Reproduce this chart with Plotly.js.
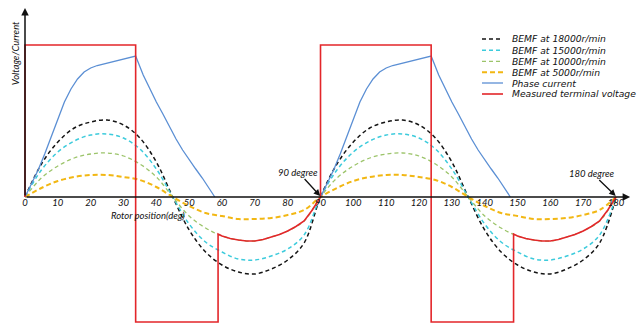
<!DOCTYPE html>
<html>
<head>
<meta charset="utf-8">
<script src="https://cdn.plot.ly/plotly-3.0.1.min.js"></script>
<style>html,body{margin:0;padding:0;background:#fff;}#chart{width:639px;height:324px;}</style>
</head>
<body>
<div id="chart"></div>
<script>
// ---- data ----
const seriesNames = ["BEMF at 18000r/min", "BEMF at 15000r/min", "BEMF at 10000r/min", "BEMF at 5000r/min", "Phase current", "Measured terminal voltage"];
const rotorDeg = [0,5,10,15,20,25,30,35,40,45,50,55,60,65,70,75,80,85,90,95,100,105,110,115,120,125,130,135,140,145,150,155,160,165,170,175,180];
const bemf18000 = [0,33,55,69,75,77,72,59,35,0,-33,-55,-68,-75,-77,-72,-63,-46,0,33,55,69,75,77,72,59,35,0,-33,-55,-68,-75,-77,-72,-63,-46,0];
const bemf15000 = [0,27,45,56,62,63,59,48,28,0,-27,-45,-55,-62,-63,-59,-52,-38,0,27,45,56,62,63,59,48,28,0,-27,-45,-55,-62,-63,-59,-52,-38,0];
const bemf10000 = [0,19,31,39,43,44,41,33,20,0,-19,-31,-39,-43,-44,-40,-34,-24,0,19,31,39,43,44,41,33,20,0,-19,-31,-39,-43,-44,-40,-34,-24,0];
const bemf5000  = [0,9,16,20,22,22,20,17,10,0,-9,-16,-19,-22,-22,-21,-18,-13,0,9,16,20,22,22,20,17,10,0,-9,-16,-19,-22,-22,-21,-18,-13,0];

const currentDeg = [0,2,4,6,8,10,12,14,16,18,20,22,24,26,28,30,32,33.7,36,38,40,42,44,46,48,50,52,54,56,57.8,null,
  90,92,94,96,98,100,102,104,106,108,110,112,114,116,118,120,122,123.7,126,128,130,132,134,136,138,140,142,144,146,147.8];
const phaseCurrent = [0,13,27,43,60,78,95,108,118,125,129,131.5,133,134.5,136,137.5,139.5,141,122,108,95,83,70,58,47,37,28,19,9,0,null,
  0,13,27,43,60,78,95,108,118,125,129,131.5,133,134.5,136,137.5,139.5,141,122,108,95,83,70,58,47,37,28,19,9,0];

const voltageDeg = [0,0,33.7,33.7,58.8,58.8,60,62.5,65,67.5,70,72.5,75,77.5,80,82.5,85,87.5,90,
  90,123.7,123.7,148.8,148.8,150,152.5,155,157.5,160,162.5,165,167.5,170,172.5,175,177.5,180];
const terminalVoltage = [0,152,152,-125,-125,-37,-39,-41.5,-43,-44,-44,-42.5,-40,-37.5,-34,-29.5,-24,-13,0,
  152,152,-125,-125,-37,-39,-41.5,-43,-44,-44,-42.5,-40,-37.5,-34,-29.5,-24,-13,0];

const tickVals = [0,10,20,30,40,50,60,70,80,90,100,110,120,130,140,150,160,170,180];
const tickText = tickVals.map(String);

// ---- styles ----
const FONT = "Lato, 'Open Sans', sans-serif";
const LEGFONT = "'DejaVu Sans', sans-serif";
const colors = ["#141414", "#3ccbdc", "#9cc46a", "#f2b713", "#5b8fd4", "#e3262a"];
const dashes = ["4px,3px", "4px,3px", "4px,3px", "5px,3px", "solid", "solid"];
const widths = [1.5, 1.5, 1.3, 2, 1.3, 1.6];

const traces = [
  {x: rotorDeg, y: bemf18000, shape: "spline"},
  {x: rotorDeg, y: bemf15000, shape: "spline"},
  {x: rotorDeg, y: bemf10000, shape: "spline"},
  {x: rotorDeg, y: bemf5000,  shape: "spline"},
  {x: currentDeg, y: phaseCurrent, shape: "linear"},
  {x: voltageDeg, y: terminalVoltage, shape: "linear"}
].map((t, i) => ({
  type: "scatter", mode: "lines", name: seriesNames[i], x: t.x, y: t.y,
  connectgaps: false, hoverinfo: "skip",
  line: {shape: t.shape, color: colors[i], width: widths[i], dash: dashes[i]}
}));

// legend drawn by hand (compact rows, as in the reference)
const W = 639, H = 324;
const legendRows = [39, 50.2, 61.4, 72.2, 83, 94];
const shapes = [];
const annotations = [];
seriesNames.forEach((n, i) => {
  shapes.push({type: "line", xref: "paper", yref: "paper",
    x0: 482 / W, x1: 503 / W, y0: 1 - legendRows[i] / H, y1: 1 - legendRows[i] / H,
    line: {color: colors[i], width: widths[i], dash: dashes[i]}});
  annotations.push({xref: "paper", yref: "paper", x: 511 / W, y: 1 - legendRows[i] / H,
    xanchor: "left", yanchor: "middle", text: n, showarrow: false, borderpad: 0,
    font: {family: LEGFONT, size: 9.2, color: "#111", style: "italic"}});
});

// axis arrows
annotations.push({x: 184.3, y: 0, ax: 0, ay: 0, axref: "x", ayref: "y", xref: "x", yref: "y",
  text: "", showarrow: true, arrowhead: 2, arrowsize: 1, arrowwidth: 1.5, arrowcolor: "#111", standoff: 0, startstandoff: 0});
annotations.push({x: 0, y: 189, ax: 0, ay: 0, axref: "x", ayref: "y", xref: "x", yref: "y",
  text: "", showarrow: true, arrowhead: 2, arrowsize: 1, arrowwidth: 1.5, arrowcolor: "#111", standoff: 0, startstandoff: 0});

// axis titles
annotations.push({x: 37.6, y: -18, xref: "x", yref: "y", text: "Rotor position(deg)", showarrow: false, borderpad: 0,
  font: {family: FONT, size: 9.5, color: "#111", style: "italic"}});
annotations.push({x: -3.0, y: 144, xref: "x", yref: "y", text: "Voltage/Current", showarrow: false, textangle: -90, borderpad: 0,
  font: {family: FONT, size: 9.5, color: "#111", style: "italic"}});

// degree pointers
annotations.push({x: 89.9, y: 1, ax: 83.2, ay: 25, axref: "x", ayref: "y", xref: "x", yref: "y",
  text: "90 degree", showarrow: true, arrowhead: 2, arrowsize: 1, arrowwidth: 1.3, arrowcolor: "#111",
  font: {family: FONT, size: 9.5, color: "#111", style: "italic"}});
annotations.push({x: 179.9, y: 1, ax: 172.7, ay: 24, axref: "x", ayref: "y", xref: "x", yref: "y",
  text: "180 degree", showarrow: true, arrowhead: 2, arrowsize: 1, arrowwidth: 1.3, arrowcolor: "#111",
  font: {family: FONT, size: 9.5, color: "#111", style: "italic"}});

const layout = {
  width: W, height: H,
  margin: {l: 0, r: 0, t: 0, b: 0, pad: 0},
  paper_bgcolor: "#fff", plot_bgcolor: "#fff",
  showlegend: false,
  xaxis: {range: [-7.615, 187.0], anchor: "free", position: 127 / 324,
    showline: false, zeroline: false, showgrid: false, ticks: "",
    ticklabelstandoff: -2,
    tickvals: tickVals, ticktext: tickText,
    tickfont: {family: FONT, size: 9.5, color: "#111", style: "italic"}},
  yaxis: {range: [-127, 197], visible: false, showgrid: false, zeroline: false},
  shapes: shapes,
  annotations: annotations
};

Plotly.newPlot("chart", traces, layout, {staticPlot: true, displayModeBar: false});
</script>
</body>
</html>
